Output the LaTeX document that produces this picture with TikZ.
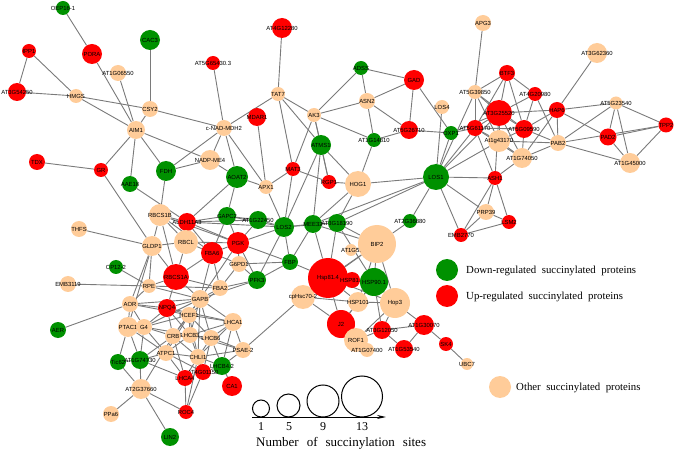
\documentclass[tikz,border=0pt]{standalone}
\usepackage{fontspec}
\setmainfont{Liberation Serif}
\newfontfamily\labfont{Liberation Sans}
\usetikzlibrary{arrows.meta,backgrounds}
\definecolor{upred}{RGB}{255,0,0}
\definecolor{dngreen}{RGB}{0,145,0}
\definecolor{othpeach}{RGB}{255,204,153}
\definecolor{edgegray}{RGB}{122,122,122}
\newcommand\legfont{\fontsize{10.8}{12}\selectfont\spaceskip=5.5pt plus 1pt\relax}
\newcommand\sizefont{\fontsize{13}{14}\selectfont\spaceskip=8pt plus 1pt\relax}
\tikzset{
  prot/.style={circle, inner sep=0pt, draw=none},
  upn/.style={prot, fill=upred},
  dnn/.style={prot, fill=dngreen},
  othn/.style={prot, fill=othpeach},
  edge/.style={draw=edgegray, line width=0.9pt},
  every label/.style={font=\labfont\fontsize{5.9}{6}\selectfont, inner sep=0pt},
  legtext/.style={font=\legfont, anchor=west, inner sep=0pt},
  sizetext/.style={font=\sizefont, inner sep=0pt},
  numtext/.style={font=\fontsize{12}{13}\selectfont, inner sep=0pt},
}

\begin{document}
\begin{tikzpicture}[x=1pt, y=-1pt]
\useasboundingbox (0,0) rectangle (675,449);
% --- top left: isoprenoid / glyoxylate
\node[dnn, minimum size=14pt, label=center:OEP16-1] (oep) at (63,8) {};
\node[upn, minimum size=14pt, label=center:IPP1] (ipp) at (29,51) {};
\node[upn, minimum size=20pt, label=center:PORA] (pora) at (92,54) {};
\node[dnn, minimum size=20pt, label=center:CAC3] (cac) at (150,40) {};
\node[othn, minimum size=16pt, label=center:AT1G06550] (at1g06550) at (118,73) {};
\node[upn, minimum size=18pt, label=center:AT3G54250] (at3g54250) at (17,92) {};
\node[othn, minimum size=14pt, label=center:HMGS] (hmgs) at (76,96) {};
\node[othn, minimum size=16pt, label=center:CSY2] (csy) at (150,109) {};
\node[othn, minimum size=18pt, label=center:AIM1] (aim) at (136,130) {};
% --- top middle
\node[upn, minimum size=20pt, label=center:AT4G12280] (at4g12280) at (282,28) {};
\node[upn, minimum size=14pt, label=center:AT5G65430.3] (at5g65430) at (213,63) {};
\node[othn, minimum size=14pt, label=center:TAT7] (tat) at (278,94) {};
\node[upn, minimum size=18pt, label=center:MDAR1] (mdar) at (257,117) {};
\node[othn, minimum size=16pt, label=center:c-NAD-MDH2] (mdh) at (224,128) {};
\node[dnn, minimum size=14pt, label=center:ADSS] (adss) at (361,68) {};
\node[upn, minimum size=20pt, label=center:GAD] (gad) at (414,80) {};
\node[othn, minimum size=16pt, label=center:ASN2] (asn) at (367,101) {};
\node[othn, minimum size=14pt, label=center:LOS4] (los4) at (442,107) {};
\node[othn, minimum size=14pt, label=center:AK3] (ak3) at (314,115) {};
\node[upn, minimum size=18pt, label=center:AT5G26710] (at5g26710) at (409,130) {};
\node[dnn, minimum size=14pt, label=center:AT1G14810] (at1g14810) at (374,140) {};
\node[dnn, minimum size=14pt, label=center:OXP1] (oxp) at (451,133) {};
\node[dnn, minimum size=20pt, label=center:ATMS1] (atms) at (321,145) {};
% --- top right: translation
\node[othn, minimum size=16pt, label=center:APG3] (apg) at (483,23) {};
\node[othn, minimum size=20pt, label=center:AT3G62360] (at3g62360) at (597,53) {};
\node[upn, minimum size=16pt, label=center:BTF3] (btf) at (507,73) {};
\node[othn, minimum size=14pt, label=center:AT5G39850] (at5g39850) at (475,92) {};
\node[upn, minimum size=14pt, label=center:AT4G20980] (at4g20980) at (535,94) {};
\node[upn, minimum size=26pt, label=center:AT3G25520] (at3g25520) at (499,113) {};
\node[upn, minimum size=16pt, label=center:HAP6] (hap) at (557,110) {};
\node[upn, minimum size=16pt, label=center:AT5G61170] (at5g61170) at (475,128) {};
\node[upn, minimum size=18pt, label=center:AT5G09590] (at5g09590) at (524,129) {};
\node[othn, minimum size=22pt, label=center:At1g43170] (at1g43170) at (499,141) {};
\node[othn, minimum size=16pt, label=center:PAB2] (pab) at (558,143) {};
\node[upn, minimum size=17pt, label=center:PAD2] (pad) at (608,137) {};
\node[upn, minimum size=15pt, label=center:TPP2] (tpp) at (666,125) {};
\node[othn, minimum size=13pt, label=center:AT5G23540] (at5g23540) at (616,103) {};
\node[othn, minimum size=20pt, label=center:AT1G45000] (at1g45000) at (630,163) {};
\node[othn, minimum size=20pt, label=center:AT1G74050] (at1g74050) at (522,158) {};
\node[upn, minimum size=14pt, label=center:ASH1] (ash) at (495,178) {};
\node[othn, minimum size=16pt, label=center:PRP39] (prp) at (486,212) {};
\node[upn, minimum size=14pt, label=center:LSM2] (lsm) at (509,222) {};
\node[upn, minimum size=14pt, label=center:EMB2770] (emb2770) at (461,235) {};
% --- middle left: carbon metabolism
\node[upn, minimum size=16pt, label=center:TDX] (tdx) at (37,162) {};
\node[upn, minimum size=14pt, label=center:GR] (gr) at (101,170) {};
\node[dnn, minimum size=16pt, label=center:AAE18] (aae) at (130,184) {};
\node[othn, minimum size=16pt, label=center:THFS] (thfs) at (79,229) {};
\node[othn, minimum size=20pt, label=center:GLDP1] (gldp) at (152,246) {};
\node[dnn, minimum size=14pt, label=center:CP12-2] (cp12) at (116,267) {};
\node[othn, minimum size=16pt, label=center:EMB3119] (emb3119) at (68,284) {};
\node[othn, minimum size=14pt, label=center:RPE] (rpe) at (149,286) {};
\node[othn, minimum size=20pt, label=center:NADP-ME4] (nadpme) at (210,160) {};
\node[dnn, minimum size=20pt, label=center:FDH] (fdh) at (166,171) {};
\node[dnn, minimum size=22pt, label=center:AOAT2] (aoat) at (237,177) {};
\node[upn, minimum size=14pt, label=center:MAT3] (mat) at (293,169) {};
\node[othn, minimum size=14pt, label=center:APX1] (apx) at (266,187) {};
\node[othn, minimum size=22pt, label=center:RBCS1B] (rbcs1b) at (160,215) {};
\node[upn, minimum size=18pt, label=center:ALDH11A3] (aldh) at (187,222) {};
\node[dnn, minimum size=18pt, label=center:GAPC2] (gapc) at (227,216) {};
\node[dnn, minimum size=18pt, label=center:AT1G22450] (at1g22450) at (258,220) {};
\node[dnn, minimum size=20pt, label=center:LOS2] (los2) at (284,227) {};
\node[othn, minimum size=24pt, label=center:RBCL] (rbcl) at (186,242) {};
\node[upn, minimum size=22pt, label=center:PGK] (pgk) at (238,243) {};
\node[upn, minimum size=22pt, label=center:FBA6] (fba6) at (212,253) {};
\node[othn, minimum size=16pt, label=center:G6PD1] (g6pd) at (239,264) {};
\node[dnn, minimum size=16pt, label=center:FBP] (fbp) at (290,262) {};
\node[dnn, minimum size=18pt, label=center:PFK3] (pfk) at (257,280) {};
\node[upn, minimum size=26pt, label=center:RBCS1A] (rbcs1a) at (176,277) {};
\node[othn, minimum size=16pt, label=center:FBA2] (fba2) at (220,288) {};
\node[othn, minimum size=18pt, label=center:GAPB] (gapb) at (200,299) {};
% --- middle: chaperones
\node[othn, minimum size=24pt, label=center:cpHsc70-2] (hsc) at (303,297) {};
\node[upn, minimum size=14pt, label=center:RGP1] (rgp) at (329,182) {};
\node[othn, minimum size=26pt, label=center:HOG1] (hog) at (358,184) {};
\node[dnn, minimum size=26pt, label=center:LOS1] (los1) at (436,177) {};
\node[dnn, minimum size=18pt, label=center:MEE32] (mee) at (313,224) {};
\node[dnn, minimum size=18pt, label=center:AT3G18190] (at3g18190) at (337,223) {};
\node[dnn, minimum size=14pt, label=center:AT2G36880] (at2g36880) at (410,221) {};
\node[othn, minimum size=38pt, label=center:BIP2] (bip) at (377,244) {};
\node[othn, minimum size=12pt, label=center:AT1G5.] (at1g5) at (351,250) {};
\node[upn, minimum size=40pt, label=center:Hsp81.4] (hsp814) at (328,278) {};
\node[upn, minimum size=16pt, label=center:HSP81.3] (hsp813) at (352,280) {};
\node[dnn, minimum size=28pt, label=center:HSP90.1] (hsp901) at (374,282) {};
\node[othn, minimum size=20pt, label=center:HSP101] (hsp101) at (358,302) {};
\node[othn, minimum size=30pt, label=center:Hop3] (hop) at (395,303) {};
\node[upn, minimum size=28pt, label=center:J2] (j2) at (341,324) {};
\node[othn, minimum size=24pt, label=center:ROF1] (rof) at (356,340) {};
\node[upn, minimum size=18pt, label=center:AT3G12050] (at3g12050) at (382,330) {};
\node[upn, minimum size=20pt, label=center:AT1G30070] (at1g30070) at (424,325) {};
\node[othn, minimum size=14pt, label=center:AT1G07400] (at1g07400) at (367,350) {};
\node[upn, minimum size=18pt, label=center:AT1G53540] (at1g53540) at (404,349) {};
\node[upn, minimum size=14pt, label=center:SK4] (sk4) at (446,344) {};
\node[othn, minimum size=12pt, label=center:UBC7] (ubc) at (467,364) {};
% --- bottom left: photosynthesis
\node[upn, minimum size=18pt, label=center:NPQ4] (npq) at (167,308) {};
\node[othn, minimum size=16pt, label=center:HCEF1] (hcef) at (189,315) {};
\node[othn, minimum size=18pt, label=center:LHCA1] (lhca1) at (233,322) {};
\node[othn, minimum size=16pt, label=center:CRB] (crb) at (173,336) {};
\node[othn, minimum size=16pt, label=center:LHCB3] (lhcb3) at (190,335) {};
\node[othn, minimum size=16pt, label=center:LHCB6] (lhcb6) at (211,338) {};
\node[othn, minimum size=16pt, label=center:ATPC1] (atpc) at (166,353) {};
\node[othn, minimum size=16pt, label=center:CHLI1] (chli) at (198,357) {};
\node[othn, minimum size=16pt, label=center:PSAE-2] (psae) at (243,350) {};
\node[dnn, minimum size=18pt, label=center:LHCB4.2] (lhcb42) at (222,366) {};
\node[upn, minimum size=16pt, label=center:AT4G01150] (at4g01150) at (203,372) {};
\node[upn, minimum size=16pt, label=center:LHCA4] (lhca4) at (185,378) {};
\node[upn, minimum size=20pt, label=center:CA1] (ca) at (232,386) {};
\node[upn, minimum size=14pt, label=center:ROC4] (roc) at (186,412) {};
\node[dnn, minimum size=18pt, label=center:LIN2] (lin) at (170,437) {};
\node[othn, minimum size=16pt, label=center:AOR] (aor) at (130,304) {};
\node[dnn, minimum size=16pt, label=center:AER] (aer) at (58,330) {};
\node[othn, minimum size=20pt, label=center:PTAC1] (ptac) at (128,327) {};
\node[othn, minimum size=16pt, label=center:G4] (g4) at (144,327) {};
\node[dnn, minimum size=16pt, label=center:Tic62] (tic) at (118,362) {};
\node[dnn, minimum size=18pt, label=center:AT1G74730] (at1g74730) at (140,360) {};
\node[othn, minimum size=20pt, label=center:AT2G37660] (at2g37660) at (141,389) {};
\node[othn, minimum size=16pt, label=center:PPa6] (ppa) at (111,414) {};

\begin{scope}[on background layer]
\foreach \a/\b in {oep/pora, pora/aim, ipp/at3g54250, ipp/hmgs, at3g54250/hmgs, hmgs/csy, hmgs/aim,
  at1g06550/aim, cac/csy, csy/aim, csy/mdh, aim/nadpme, aim/gr, aim/aae, aim/fdh,
  at5g65430/mdh, at4g12280/tat, tat/mdh, tat/ak3, tat/mat, tat/atms, mdar/apx, mdh/nadpme,
  mdh/aoat, mdh/apx, mdh/fdh,
  adss/gad, adss/asn, adss/ak3, asn/gad, asn/ak3, asn/at1g14810, asn/at5g26710, gad/at5g26710,
  gad/oxp, at1g14810/at5g26710, at5g26710/oxp, ak3/at1g14810, ak3/atms, ak3/mat, ak3/rgp,
  los4/los1, oxp/los1, at1g14810/hog, atms/hog, atms/mee, atms/rgp, atms/los2,
  apg/at5g39850, at3g62360/hap, at5g39850/at3g25520, at5g39850/btf, at5g39850/at5g61170,
  at5g39850/at5g09590, at5g39850/at1g43170, btf/at3g25520, btf/at5g61170, btf/at5g09590,
  btf/at4g20980, at4g20980/at3g25520, at4g20980/at5g09590, at4g20980/pab, at3g25520/at5g61170,
  at3g25520/at5g09590, at3g25520/hap, at3g25520/at1g43170, at5g61170/at5g09590,
  at5g61170/at1g43170, at5g09590/at1g43170, at5g09590/hap, at5g09590/pab, at1g43170/pab,
  hap/at5g23540, hap/pad, hap/pab, at5g23540/pab, at5g23540/pad, at5g23540/at1g45000,
  at5g23540/tpp, pad/tpp, pad/at1g45000, tpp/at1g45000, pab/at1g45000, pab/tpp,
  at1g74050/at3g25520, at1g74050/at5g61170, at1g74050/at5g09590, at1g74050/hap,
  at1g74050/ash, at1g74050/pab, at1g74050/at1g43170, ash/at3g25520, ash/at5g61170, ash/prp,
  ash/lsm, ash/emb2770, prp/lsm, prp/emb2770, emb2770/lsm, los1/at5g61170, los1/at3g25520,
  los1/at1g43170, los1/at5g39850, los1/ash, los1/emb2770, los1/prp, oxp/at5g61170,
  oxp/at3g25520,
  los1/hog, los1/mee, los1/at3g18190, los1/at2g36880, at2g36880/bip, hog/mee,
  hog/at3g18190, hog/rgp, mee/at3g18190, mee/bip, mee/hsp814, mee/los2, mee/fbp,
  at3g18190/bip, at3g18190/hsp814, at3g18190/hsp901, at3g18190/los2, bip/at1g5, bip/hsp814,
  bip/hsp901, bip/hsp101, bip/hop, bip/hsc, hsp814/hsp813, hsp814/hsp901, hsp814/hsp101,
  hsp814/j2, hsp814/hsc, hsp814/hop, hsp901/hop, hsp901/hsp101, hsp901/j2, hsp901/at3g12050,
  hsp101/hop, hsp101/j2, hop/at3g12050, hop/at1g30070, hop/rof, j2/rof, rof/at1g07400,
  at3g12050/at1g30070, at3g12050/at1g53540, at1g30070/at1g53540, at1g30070/sk4, sk4/ubc,
  at3g12050/rof, hsc/j2, hsc/hsp101, hsp814/fbp,
  los2/at1g22450, los2/gapc, los2/pgk, los2/fbp, los2/pfk, los2/mat, at1g22450/gapc,
  at1g22450/pgk, at1g22450/aldh, gapc/aldh, gapc/pgk, gapc/fba6, gapc/aoat, aoat/apx,
  aoat/aldh, apx/los2, apx/mat, mat/rgp,
  tdx/gr, gr/gldp, aae/aldh, fdh/rbcs1b, fdh/nadpme, nadpme/aoat, thfs/gldp, gldp/rbcs1b,
  gldp/rbcl, gldp/rpe, gldp/rbcs1a, gldp/aor, gldp/ptac, cp12/rpe, emb3119/rpe, rpe/rbcs1a,
  rpe/gapb, rpe/fba2, rpe/aor, rbcs1b/aldh, rbcs1b/rbcl, rbcs1b/rbcs1a, rbcs1b/fba6,
  rbcs1b/pgk, rbcl/aldh, rbcl/rbcs1a, rbcl/fba6, rbcl/pgk, aldh/pgk, aldh/fba6, aldh/los2,
  pgk/fba6, pgk/g6pd, pgk/fbp, pgk/pfk, pgk/gapb, fba6/rbcs1a, fba6/fba2, fba6/g6pd,
  fba6/gapb, g6pd/fbp, g6pd/pfk, g6pd/fba2, fbp/pfk, pfk/fba2, pfk/gapb, rbcs1a/fba2,
  rbcs1a/gapb, rbcs1a/npq, fba2/gapb, fba2/hcef,
  gapb/npq, gapb/hcef, gapb/lhca1, gapb/lhcb3, gapb/lhcb6, gapb/crb, gapb/g4, gapb/aor,
  gapb/chli, npq/hcef, npq/crb, npq/lhcb3, npq/g4, npq/aor, npq/lhca1, hcef/lhca1, hcef/crb,
  hcef/lhcb3, hcef/lhcb6, hcef/atpc, hcef/chli, lhca1/lhcb6, lhca1/lhcb3, lhca1/psae,
  lhca1/chli, lhca1/lhcb42, crb/lhcb3, crb/atpc, crb/chli, crb/g4, crb/lhca4, lhcb3/lhcb6,
  lhcb3/chli, lhcb3/atpc, lhcb3/psae, lhcb6/chli, lhcb6/psae, lhcb6/lhcb42, lhcb6/at4g01150,
  atpc/chli, atpc/lhca4, atpc/at4g01150, atpc/g4, atpc/at1g74730, atpc/ptac, chli/lhcb42,
  chli/at4g01150, chli/lhca4, chli/psae, psae/lhcb42, psae/hsc, lhcb42/at4g01150, lhcb42/ca,
  at4g01150/lhca4, at4g01150/roc, lhca4/roc, lhca4/at1g74730, roc/at2g37660, roc/chli,
  lin/at2g37660, at2g37660/ppa, at2g37660/tic, at2g37660/at1g74730, at2g37660/crb,
  tic/ptac, tic/at1g74730, at1g74730/g4, at1g74730/ptac, ptac/g4, ptac/aor, g4/aor, aor/aer,
  aor/hcef, g4/hcef, g4/lhcb3, at1g74730/crb}
  \draw[edge] (\a) -- (\b);
\end{scope}

% --- legend
\node[dnn, minimum size=22pt] (legdn) at (447,270) {};
\node[legtext] (txtdn) at (466,271) {Down-regulated succinylated proteins};
\node[upn, minimum size=22pt] (legup) at (447,296) {};
\node[legtext] (txtup) at (466,297) {Up-regulated succinylated proteins};
\node[othn, minimum size=22pt] (legoth) at (500,387) {};
\node[legtext] (txtoth) at (516,388) {Other succinylated proteins};
% size scale
\coordinate (axl) at (252,417);
\coordinate (axr) at (386,417);
\draw[line width=1pt, -{Stealth[length=9pt,width=4pt]}] (axl) -- (axr);
\node[circle, draw, line width=1pt, minimum size=17pt, inner sep=0pt] (sz1) at (261,408.5) {};
\node[circle, draw, line width=1pt, minimum size=23pt, inner sep=0pt] (sz5) at (288.5,405.5) {};
\node[circle, draw, line width=1pt, minimum size=32pt, inner sep=0pt] (sz9) at (323,401) {};
\node[circle, draw, line width=1pt, minimum size=41pt, inner sep=0pt] (sz13) at (362,396.5) {};
\node[numtext] (n1) at (261,427) {1};
\node[numtext] (n5) at (289,427) {5};
\node[numtext] (n9) at (323,427) {9};
\node[numtext] (n13) at (362,427) {13};
\node[sizetext, anchor=west] (sztitle) at (256,443) {Number of succinylation sites};
\end{tikzpicture}
\end{document}
